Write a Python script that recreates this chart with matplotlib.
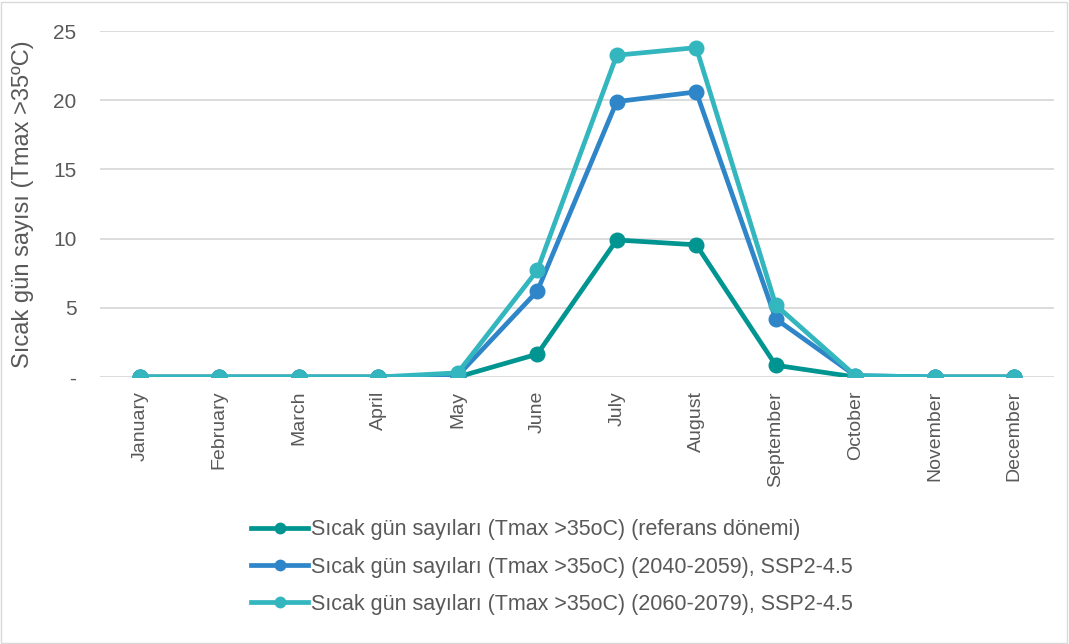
import matplotlib
matplotlib.use("Agg")
import matplotlib.pyplot as plt
from matplotlib.patches import Rectangle

plt.rcParams['font.family'] = ['Liberation Sans', 'DejaVu Sans']

months = ["January", "February", "March", "April", "May", "June", "July",
          "August", "September", "October", "November", "December"]

ref_period = [0, 0, 0, 0, 0, 1.65, 9.9, 9.55, 0.85, 0, 0, 0]
ssp245_2040_2059 = [0, 0, 0, 0, 0.1, 6.2, 19.9, 20.6, 4.2, 0.1, 0, 0]
ssp245_2060_2079 = [0, 0, 0, 0, 0.3, 7.7, 23.25, 23.8, 5.2, 0.1, 0, 0]

series_labels = [
    "Sıcak gün sayıları (Tmax >35oC) (referans dönemi)",
    "Sıcak gün sayıları (Tmax >35oC) (2040-2059), SSP2-4.5",
    "Sıcak gün sayıları (Tmax >35oC) (2060-2079), SSP2-4.5",
]
series_colors = ["#009591", "#2E86C9", "#33B6BE"]

yticks = [0, 5, 10, 15, 20, 25]
ytick_labels = ["-", "5", "10", "15", "20", "25"]

W, H = 1069, 644
fig = plt.figure(figsize=(W / 100, H / 100), dpi=100)
fig.patches.append(Rectangle((1 / W, 1 / H), 1 - 3 / W, 1 - 3 / H, transform=fig.transFigure,
                             fill=False, edgecolor="#D9D9D9", linewidth=1.0))

ax = fig.add_axes([100 / W, (H - 377) / H, 954 / W, 346 / H])
x = list(range(len(months)))
for vals, lab, col in zip([ref_period, ssp245_2040_2059, ssp245_2060_2079],
                          series_labels, series_colors):
    ax.plot(x, vals, color=col, linewidth=3.4, marker="o", markersize=10.5,
            label=lab, solid_capstyle="round", zorder=3)

ax.set_xlim(-0.5, len(months) - 0.5)
ax.set_ylim(0, 25)
ax.set_yticks(yticks)
ax.set_yticklabels(ytick_labels)
ax.set_xticks(x)
ax.set_xticklabels(months, rotation=90)
ax.tick_params(axis="both", length=0, labelcolor="#595959")
ax.tick_params(axis="y", pad=17, labelsize=15)
ax.tick_params(axis="x", pad=10, labelsize=14)
ax.grid(axis="y", color="#D9D9D9", linewidth=1.3)
ax.set_axisbelow(True)
for s in ax.spines.values():
    s.set_visible(False)
ax.set_ylabel("Sıcak gün sayısı (Tmax >35ºC)", fontsize=17, color="#595959")
ax.yaxis.set_label_coords(-66 / 954, 0.5)

# legend entries use a smaller marker than the plotted series
leg_handles = []
for col in series_colors:
    lh, = ax.plot([], [], color=col, linewidth=3.4, marker="o", markersize=7.5)
    leg_handles.append(lh)
fig.legend(handles=leg_handles, labels=series_labels, loc="upper left",
           bbox_to_anchor=(232 / W, 1 - 500 / H),
           frameon=False, fontsize=15.5, labelcolor="#595959", handlelength=2.65,
           handletextpad=0.1, labelspacing=0.75)

fig.savefig("out.png", dpi=100)
